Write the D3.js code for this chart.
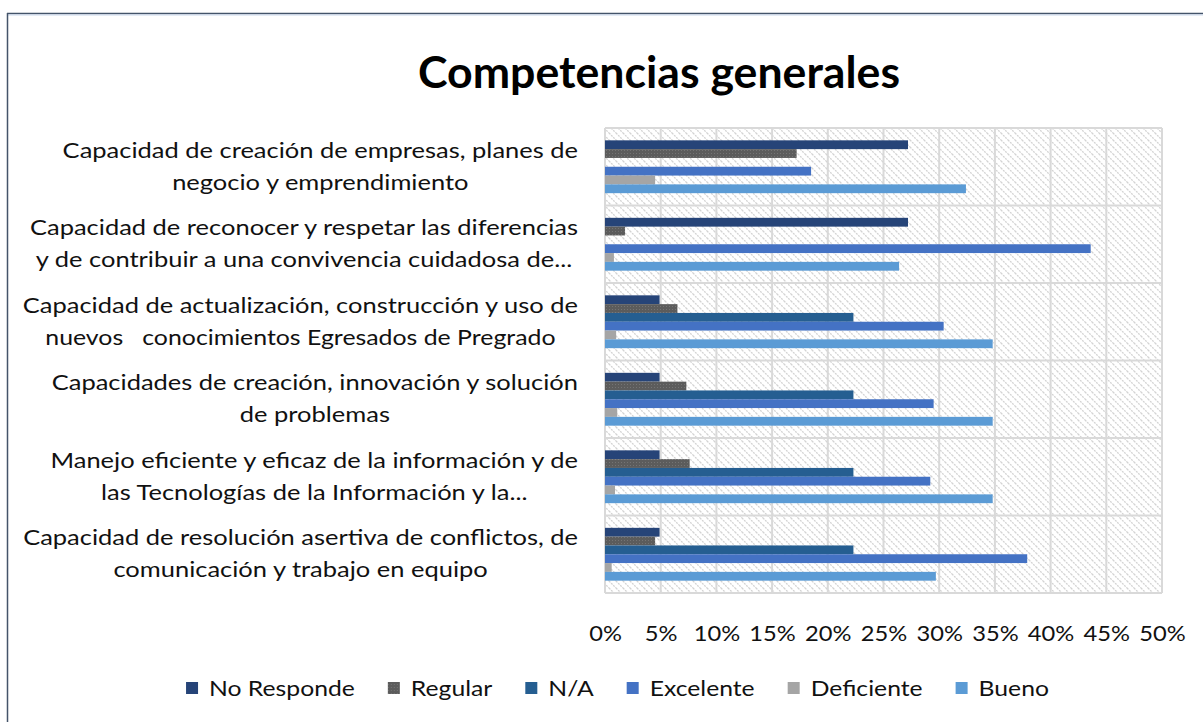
<!DOCTYPE html>
<html>
<head>
<meta charset="utf-8">
<title>Competencias generales</title>
<script src="https://cdn.jsdelivr.net/npm/d3@7"></script>
<style>
  body { margin: 0; background: #fff; }
  svg { display: block; font-family: Lato, "Open Sans", sans-serif; }
</style>
</head>
<body>
<div id="chart"></div>
<script>
// categories, top to bottom (each one split in the two lines shown)
const categories = [
  ["Capacidad de creación de empresas, planes de", "negocio y emprendimiento"],
  ["Capacidad de reconocer y respetar las diferencias", "y de contribuir a una convivencia cuidadosa de..."],
  ["Capacidad de actualización, construcción y uso de", "nuevos   conocimientos Egresados de Pregrado"],
  ["Capacidades de creación, innovación y solución", "de problemas"],
  ["Manejo eficiente y eficaz de la información y de", "las Tecnologías de la Información y la..."],
  ["Capacidad de resolución asertiva de conflictos, de", "comunicación y trabajo en equipo"]
];

const seriesNames = ["No Responde", "Regular", "N/A", "Excelente", "Deficiente", "Bueno"];
const seriesColors = ["#264478", "url(#dots)", "#255e91", "#4472c4", "#a5a5a5", "#5b9bd5"];

// percent values, one per category
const noResponde = [27.2, 27.2, 4.9, 4.9, 4.9, 4.9];
const regular    = [17.2, 1.8, 6.5, 7.3, 7.6, 4.5];
const na         = [0, 0, 22.3, 22.3, 22.3, 22.3];
const excelente  = [18.5, 43.6, 30.4, 29.5, 29.2, 37.9];
const deficiente = [4.5, 0.8, 1.0, 1.1, 0.9, 0.6];
const bueno      = [32.4, 26.4, 34.8, 34.8, 34.8, 29.7];
const seriesValues = [noResponde, regular, na, excelente, deficiente, bueno];

const xTicks = [0, 5, 10, 15, 20, 25, 30, 35, 40, 45, 50];

const width = 1203, height = 722;
const plot = {left: 605, right: 1162, top: 128, bottom: 593};

const svg = d3.select("#chart").append("svg")
    .attr("width", width)
    .attr("height", height);

const defs = svg.append("defs");
const hatch = defs.append("pattern")
    .attr("id", "hatch")
    .attr("patternUnits", "userSpaceOnUse")
    .attr("width", 7).attr("height", 7);
hatch.append("rect").attr("width", 7).attr("height", 7).attr("fill", "#fff");
hatch.append("path")
    .attr("d", "M0,0L7,7M-1,6L1,8M6,-1L8,1")
    .attr("stroke", "#d3d3d3")
    .attr("stroke-width", 1.3)
    .attr("stroke-dasharray", "2,1");

const dots = defs.append("pattern")
    .attr("id", "dots")
    .attr("patternUnits", "userSpaceOnUse")
    .attr("width", 3).attr("height", 3);
dots.append("rect").attr("width", 3).attr("height", 3).attr("fill", "#5c5c5c");
dots.append("rect").attr("width", 1).attr("height", 1).attr("fill", "#747474");

// outer frame
svg.append("line").attr("x1", 7).attr("x2", width).attr("y1", 13.5).attr("y2", 13.5)
    .attr("stroke", "#44546a").attr("stroke-width", 1.5);
svg.append("line").attr("x1", 8).attr("x2", width).attr("y1", 15).attr("y2", 15)
    .attr("stroke", "#c9d7ec").attr("stroke-width", 1);
svg.append("line").attr("x1", 7.5).attr("x2", 7.5).attr("y1", 13).attr("y2", height)
    .attr("stroke", "#44546a").attr("stroke-width", 1.5);

const x = d3.scaleLinear().domain([0, 50]).range([plot.left, plot.right]);
const y = d3.scaleBand().domain(d3.range(categories.length)).range([plot.top, plot.bottom]);
const ySub = d3.scaleBand().domain(d3.range(seriesNames.length))
    .range([0, y.bandwidth()]).paddingInner(0).paddingOuter(1.4);

// plot background
svg.append("rect")
    .attr("x", plot.left).attr("y", plot.top)
    .attr("width", plot.right - plot.left).attr("height", plot.bottom - plot.top)
    .attr("fill", "url(#hatch)");

// grid
const grid = svg.append("g").attr("stroke", "#d9d9d9").attr("stroke-width", 2);
grid.selectAll("line.v").data(xTicks).join("line")
    .attr("class", "v")
    .attr("x1", d => x(d)).attr("x2", d => x(d))
    .attr("y1", plot.top).attr("y2", plot.bottom);
grid.selectAll("line.h").data(d3.range(categories.length + 1)).join("line")
    .attr("class", "h")
    .attr("x1", plot.left).attr("x2", plot.right)
    .attr("y1", d => plot.top + d * y.step()).attr("y2", d => plot.top + d * y.step());

// bars
svg.append("g").selectAll("g")
    .data(seriesValues)
    .join("g")
    .attr("fill", (d, i) => seriesColors[i])
    .each(function(vals, s) {
        d3.select(this).selectAll("rect")
            .data(vals)
            .join("rect")
            .attr("x", x(0))
            .attr("y", (d, c) => y(c) + ySub(s))
            .attr("width", d => x(d) - x(0))
            .attr("height", ySub.bandwidth());
    });

// title
const title = svg.append("text")
    .attr("x", 659).attr("y", 88)
    .attr("text-anchor", "middle")
    .attr("font-size", 43).attr("font-weight", 700)
    .attr("fill", "#000")
    .text("Competencias generales");
title.attr("textLength", 482).attr("lengthAdjust", "spacingAndGlyphs");

// category labels
const fontSize = 20.5;
const labels = svg.append("g").attr("font-size", fontSize).attr("fill", "#111");
const probe = labels.append("text").text(categories[1][0]);
const ratio = 548 / probe.node().getComputedTextLength();
probe.remove();

categories.forEach((lines, c) => {
    const cy = y(c) + y.bandwidth() / 2;
    const ws = lines.map(t => {
        const p = labels.append("text").text(t);
        const w = p.node().getComputedTextLength() * ratio;
        p.remove();
        return w;
    });
    const blockW = d3.max(ws);
    const center = 578 - blockW / 2;
    lines.forEach((t, k) => {
        labels.append("text")
            .attr("x", center)
            .attr("y", cy + (k === 0 ? -9 : 23))
            .attr("text-anchor", "middle")
            .attr("textLength", ws[k])
            .attr("lengthAdjust", "spacingAndGlyphs")
            .style("white-space", "pre")
            .text(t);
    });
});

// x axis labels
const axis = svg.append("g")
    .attr("transform", `translate(0,${plot.bottom})`)
    .call(d3.axisBottom(x).tickValues(xTicks).tickFormat(d => d + "%").tickSize(0).tickPadding(0));
axis.select(".domain").remove();
axis.selectAll("text")
    .attr("font-family", "Lato, 'Open Sans', sans-serif")
    .attr("font-size", fontSize)
    .attr("fill", "#111")
    .attr("dy", 0)
    .attr("y", 48)
    .each(function() {
        const w = this.getComputedTextLength() * ratio * 0.93;
        d3.select(this).attr("textLength", w).attr("lengthAdjust", "spacingAndGlyphs");
    });

// legend
const legend = svg.append("g").attr("font-size", fontSize).attr("fill", "#111");
const items = legend.selectAll("g").data(seriesNames).join("g");
items.append("rect")
    .attr("width", 12).attr("height", 12)
    .attr("y", 682)
    .attr("fill", (d, i) => seriesColors[i]);
items.append("text")
    .attr("x", 23).attr("y", 696)
    .text(d => d)
    .each(function() {
        const w = this.getComputedTextLength() * ratio * 0.97;
        d3.select(this).attr("textLength", w).attr("lengthAdjust", "spacingAndGlyphs");
    });
let pos = 0;
const offsets = [];
items.each(function() {
    const w = +d3.select(this).select("text").attr("textLength");
    offsets.push(pos);
    pos += 23 + w + 33;
});
const total = pos - 33;
const start = 617.5 - total / 2;
items.attr("transform", (d, i) => `translate(${start + offsets[i]},0)`);
</script>
</body>
</html>
